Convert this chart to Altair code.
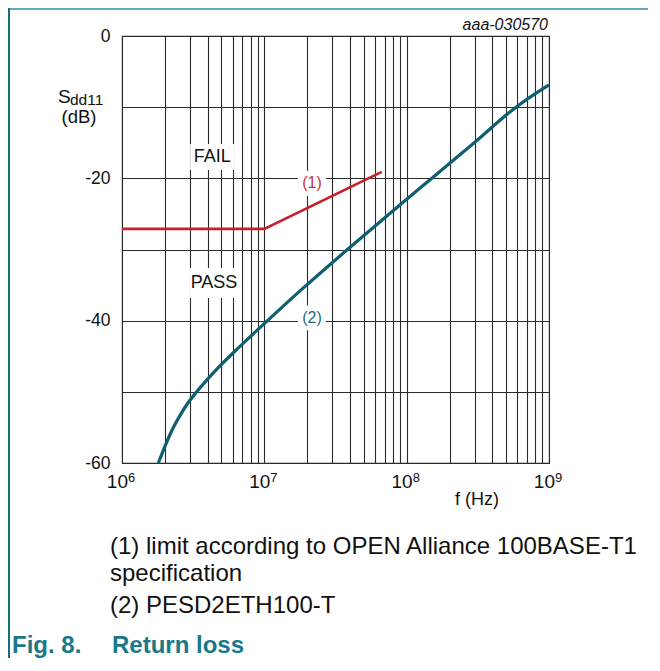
import altair as alt
import pandas as pd

# ---- data ----
# (1) limit according to OPEN Alliance 100BASE-T1
lim_f = [1e6, 1e7, 6.68e7]
lim_db = [-27.1, -27.1, -19.1]
# (2) PESD2ETH100-T
dev_f = [1.80e6, 2.0e6, 2.29e6, 2.56e6, 2.84e6, 3.35e6, 4.62e6, 6.75e6, 1.04e7,
         1.88e7, 2.9e7, 3.89e7, 9.0e7, 1.54e8, 2.94e8, 5.93e8, 1.0e9]
dev_db = [-60.0, -57.7, -55.05, -53.3, -51.85, -50.0, -46.85, -43.6, -40.1,
          -35.4, -32.1, -29.9, -23.7, -19.8, -15.1, -9.93, -6.88]

decades = [1e6, 1e7, 1e8, 1e9]
decade_base = ["10", "10", "10", "10"]
decade_exp = ["6", "7", "8", "9"]
y_grid = [-60, -50, -40, -30, -20, -10, 0]
x_grid = [m * 10 ** k for k in (6, 7, 8) for m in range(1, 10)] + [1e9]

ann_text = ["FAIL", "PASS", "(1)", "(2)"]
ann_f = [4.3e6, 4.43e6, 2.16e7, 2.16e7]
ann_db = [-17.0, -34.7, -20.7, -39.6]
ann_color = ["#111111", "#111111", "#c8303c", "#1d6b80"]
ann_size = [18, 18, 16, 16]

FONT = "Liberation Sans"
W, H = 427, 427
GRID = "#2a2a2a"

lim = pd.DataFrame({"f": lim_f, "db": lim_db})
dev = pd.DataFrame({"f": dev_f, "db": dev_db})
ann = pd.DataFrame({"f": ann_f, "db": ann_db, "t": ann_text, "c": ann_color, "s": ann_size})
dec = pd.DataFrame({"f": decades, "b": decade_base, "e": decade_exp, "db": [-60] * 4})

xs = alt.Scale(type="log", domain=[1e6, 1e9], nice=False)
ys = alt.Scale(domain=[-60, 0], nice=False)

x_axis = alt.Axis(values=x_grid, grid=True, labels=False, ticks=False, domain=False,
                  title=None, gridColor=GRID, gridWidth=1.1, gridOpacity=1)
y_axis = alt.Axis(values=y_grid, grid=True, ticks=False, domain=False, title=None,
                  gridColor=GRID, gridWidth=1.1, gridOpacity=1,
                  labelExpr="datum.value % 20 == 0 ? '' + datum.value : ''",
                  labelFont=FONT, labelFontSize=17.5, labelColor="#111111", labelPadding=12)

X = alt.X("f:Q", scale=xs, axis=x_axis)
Y = alt.Y("db:Q", scale=ys, axis=y_axis)

dev_line = alt.Chart(dev).mark_line(color="#0f5f72", strokeWidth=3.2, interpolate="monotone").encode(x=X, y=Y)
lim_line = alt.Chart(lim).mark_line(color="#c81e2a", strokeWidth=2.6).encode(x=X, y=Y)

box_fail = alt.Chart(ann.iloc[[0]]).mark_rect(color="white", width=44, height=26).encode(x=X, y=Y)
box_pass = alt.Chart(ann.iloc[[1]]).mark_rect(color="white", width=48, height=30).encode(x=X, y=Y)
box_num = alt.Chart(ann.iloc[[2, 3]]).mark_rect(color="white", width=28, height=25).encode(x=X, y=Y)

ann_txt = alt.Chart(ann).mark_text(font=FONT, baseline="middle", align="center").encode(
    x=X, y=Y,
    text="t:N",
    color=alt.Color("c:N", scale=None),
    size=alt.Size("s:Q", scale=None),
)

dec_base = alt.Chart(dec).mark_text(font=FONT, fontSize=19, align="right", baseline="alphabetic",
                                    dx=6, dy=25, color="#111111").encode(x=X, y=Y, text="b:N")
dec_exp = alt.Chart(dec).mark_text(font=FONT, fontSize=13, align="left", baseline="alphabetic",
                                   dx=6, dy=19, color="#111111").encode(x=X, y=Y, text="e:N")


def label(txt, x, y, size, align="left", color="#111111", weight="normal", style="normal"):
    return alt.Chart(pd.DataFrame({"t": [txt]})).mark_text(
        font=FONT, fontSize=size, align=align, baseline="alphabetic", color=color,
        fontWeight=weight, fontStyle=style,
    ).encode(x=alt.value(x), y=alt.value(y), text="t:N")


texts = [
    label("S", -64, 67, 19),
    label("dd11", -52, 69, 15.5),
    label("(dB)", -43, 87, 18.5, align="center"),
    label("f (Hz)", 355, 469, 18, align="center"),
    label("aaa-030570", 426, -6, 16, align="right", style="italic"),
    label("(1) limit according to OPEN Alliance 100BASE-T1", -12, 518, 24),
    label("specification", -12, 545, 24),
    label("(2) PESD2ETH100-T", -12, 577, 24),
    label("Fig. 8.", -110, 617, 24, color="#17798a", weight="bold"),
    label("Return loss", -10, 617, 24, color="#17798a", weight="bold"),
]

frame_top = alt.Chart(pd.DataFrame({"a": [0]})).mark_rule(color="#62aabb", strokeWidth=2).encode(
    x=alt.value(-114), x2=alt.value(526), y=alt.value(-27))
frame_left = alt.Chart(pd.DataFrame({"a": [0]})).mark_rule(color="#1a6e78", strokeWidth=2).encode(
    x=alt.value(-113), y=alt.value(-28), y2=alt.value(622))

chart = alt.layer(
    box_fail, box_pass, box_num, lim_line, dev_line, ann_txt,
    dec_base, dec_exp, *texts, frame_top, frame_left,
).properties(
    width=W, height=H,
    autosize=alt.AutoSizeParams(type="none"),
    padding={"left": 114, "top": 28, "right": 99, "bottom": 195},
    background="white",
).configure_view(stroke=GRID, strokeWidth=1.1)

chart.save("out.html", embed_options={"renderer": "svg", "actions": False})
